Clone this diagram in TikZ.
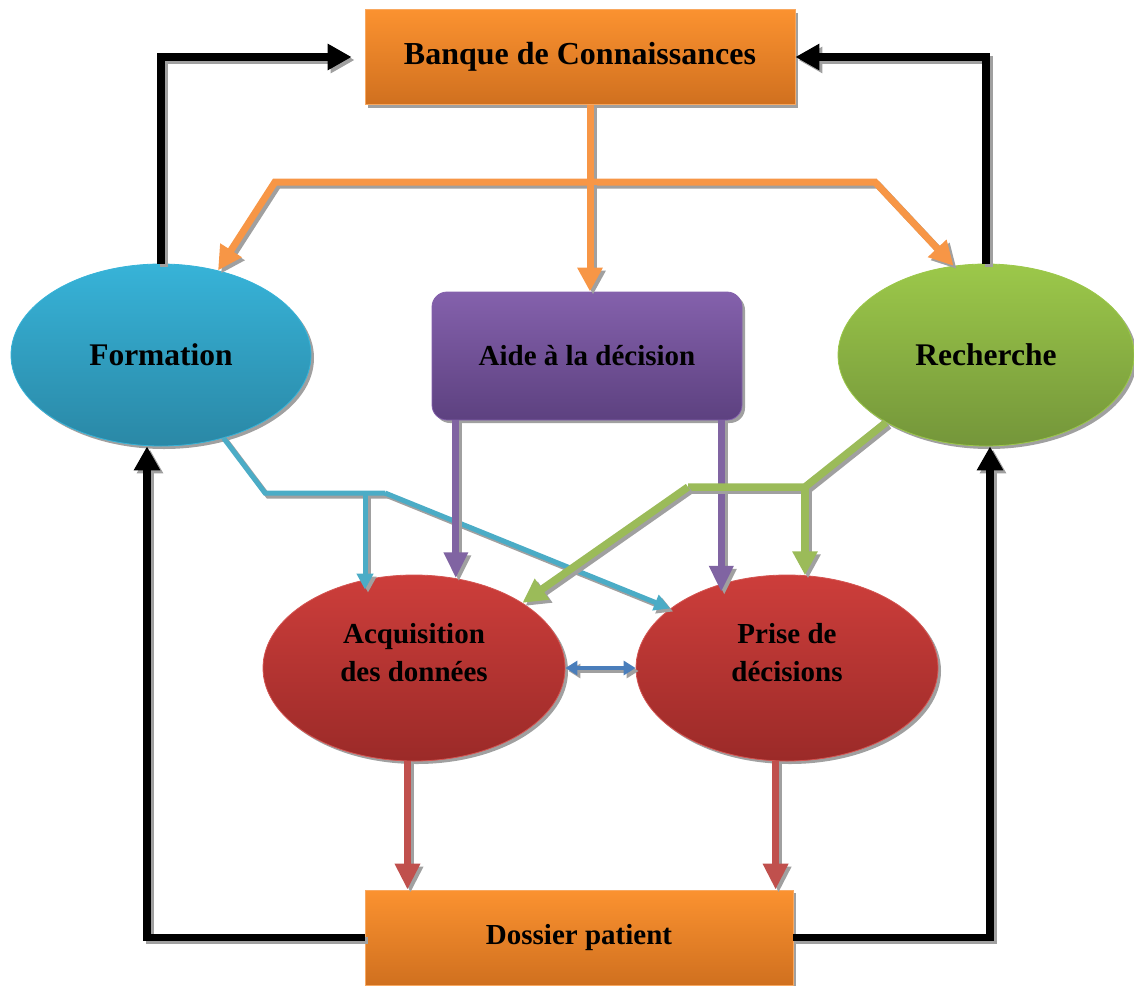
\documentclass[tikz,border=0pt]{standalone}
\usepackage{fontspec}
\setmainfont{Liberation Serif}
\usetikzlibrary{arrows.meta,shapes.geometric,shadows}
\definecolor{orTop}{HTML}{FB9230}
\definecolor{orBot}{HTML}{D0701F}
\definecolor{orBrd}{HTML}{F8A860}
\definecolor{blTop}{HTML}{37B3D8}
\definecolor{blBot}{HTML}{2A88A6}
\definecolor{grTop}{HTML}{9CC84A}
\definecolor{grBot}{HTML}{74963A}
\definecolor{puTop}{HTML}{8461AC}
\definecolor{puBot}{HTML}{5D4180}
\definecolor{rdTop}{HTML}{CD3E3B}
\definecolor{rdBot}{HTML}{9B2A28}
\definecolor{rdBrd}{HTML}{D45552}
\definecolor{orLn}{HTML}{F79646}
\definecolor{tlLn}{HTML}{4BACC6}
\definecolor{puLn}{HTML}{8064A2}
\definecolor{gnLn}{HTML}{9BBB59}
\definecolor{rdLn}{HTML}{C0504D}
\definecolor{buLn}{HTML}{4A7EBB}
\definecolor{shGray}{HTML}{A0A0A0}
\tikzset{
  shd/.style={drop shadow={shadow xshift=3pt,shadow yshift=-3pt,fill=shGray,opacity=1}},
  obox/.style={rectangle,minimum width=430,minimum height=95,inner sep=0,
    top color=orTop,bottom color=orBot,draw=orBrd,line width=0.8pt,shd},
  ell/.style={ellipse,inner sep=0,line width=0.8pt,shd},
  txt/.style={font=\bfseries\fontsize{29}{38}\selectfont,align=center,text=black},
  shadowln/.style={draw=shGray,transform canvas={xshift=3pt,yshift=-3pt}},
  blk/.style={line width=7.5pt,draw=black,-{Triangle[length=24pt,width=25pt]}},
  orl/.style={line width=7pt,draw=orLn},
  ora/.style={orl,-{Triangle[length=24pt,width=24pt]}},
  tll/.style={line width=5pt,draw=tlLn},
  tla/.style={tll,-{Triangle[length=16pt,width=16pt]}},
  pua/.style={line width=7pt,draw=puLn,-{Triangle[length=26pt,width=23pt]}},
  gnl/.style={line width=7.5pt,draw=gnLn},
  gna/.style={gnl,-{Triangle[length=24pt,width=24pt]}},
  rda/.style={line width=7pt,draw=rdLn,-{Triangle[length=26pt,width=24pt]}},
  bua/.style={line width=3.5pt,draw=buLn,{Triangle[length=12pt,width=14pt]}-{Triangle[length=12pt,width=14pt]}},
}
\newcommand{\conn}[2]{\draw[#1,shadowln] #2; \draw[#1] #2;}
\begin{document}
\begin{tikzpicture}[x=1pt,y=-1pt]
\useasboundingbox (0,0) rectangle (1134,985);
% nodes
\node[obox,txt,font=\bfseries\fontsize{32}{38}\selectfont] (bank) at (580,57) {Banque de Connaissances};
\node[obox,txt,minimum width=428] (dossier) at (579,937.5) {Dossier patient};
\node[ell,minimum width=300,minimum height=182,top color=blTop,bottom color=blBot,draw=blTop] (form) at (161,355) {};
\node[txt,font=\bfseries\fontsize{31.5}{38}\selectfont] (formt) at (form.center) {Formation};
\node[ell,minimum width=296,minimum height=182,top color=grTop,bottom color=grBot,draw=grTop] (rech) at (986,355) {};
\node[txt,font=\bfseries\fontsize{31.5}{38}\selectfont] (recht) at (rech.center) {Recherche};
\node[rectangle,rounded corners=15pt,minimum width=310,minimum height=128,inner sep=0,
  top color=puTop,bottom color=puBot,draw=puTop,line width=0.8pt,shd,txt] (aide) at (587,356) {Aide à la décision};
\node[ell,minimum width=302,minimum height=186,top color=rdTop,bottom color=rdBot,draw=rdBrd] (acq) at (414,668) {};
\node[txt] (acqt) at (414,653) {Acquisition\\des données};
\node[ell,minimum width=302,minimum height=186,top color=rdTop,bottom color=rdBot,draw=rdBrd] (prise) at (787,668) {};
\node[txt] (priset) at (787,653) {Prise de\\décisions};
% junction coordinates
\coordinate (jc) at (590,182);
\coordinate (jl) at (275,182);
\coordinate (jr) at (875,182);
\coordinate (tl) at (265,493);
\coordinate (tr) at (385,493);
\coordinate (gr) at (805,487);
\coordinate (gl) at (688,487);
% black feedback loops
\conn{blk,shorten >=13pt}{(form.north) |- (bank.west)}
\conn{blk}{(rech.north) |- (bank.east)}
\conn{blk}{(dossier.west) -| ([xshift=-14pt]form.south)}
\conn{blk}{(dossier.east) -| ([xshift=4pt]rech.south)}
% orange distribution
\conn{orl}{(bank.south -| jc) -- (jc)}
\conn{ora}{(jc) -- (jl) -- (form.56)}
\conn{ora}{(jc) -- (jr) -- (rech.110)}
\conn{ora}{(jc) -- (jc |- aide.north)}
% teal from Formation
\conn{tll}{(form.-53) -- (tl) -- (tr)}
\conn{tla,shorten >=-10pt}{(acq.119 |- tl) -- (acq.119)}
\conn{tla}{(tr) -- (prise.153)}
% purple from Aide
\conn{pua}{(aide.south -| acq.65) -- (acq.65)}
\conn{pua,shorten >=-8pt}{(aide.south -| prise.128) -- (prise.128)}
% green from Recherche
\conn{gnl}{(rech.214) -- (gr) -- (gl)}
\conn{gna}{(gl) -- (acq.31)}
\conn{gna}{(gr) -- (gr |- prise.79)}
% red to Dossier
\conn{rda}{(acq.266) -- (acq.266 |- dossier.north)}
\conn{rda}{(prise.263) -- (prise.263 |- dossier.north)}
% blue double arrow
\conn{bua}{(acq.east) -- (prise.west)}
\end{tikzpicture}
\end{document}
